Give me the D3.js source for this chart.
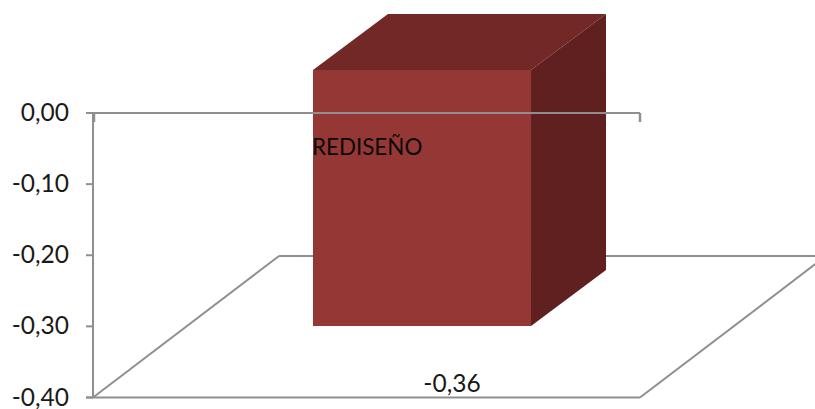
<!DOCTYPE html>
<html>
<head>
<meta charset="utf-8">
<script src="https://cdn.jsdelivr.net/npm/d3@7"></script>
<style>
html, body { margin: 0; padding: 0; background: #fff; overflow: hidden; }
svg { display: block; }
text { font-family: Lato, "Open Sans", sans-serif; fill: #1a1a1a; }
</style>
</head>
<body>
<svg width="815" height="409"></svg>
<script>
const categories = ["REDISEÑO"];
const values = [-0.36];
const valueLabels = ["-0,36"];
const tickValues = [0, -0.1, -0.2, -0.3, -0.4];
const tickLabels = ["0,00", "-0,10", "-0,20", "-0,30", "-0,40"];

const svg = d3.select("svg");
const grey = "#8f8f8f";

const scaleY = d3.scaleLinear().domain([0, -0.4]).range([113, 397.5]);
const scaleX = d3.scaleBand().domain(categories).range([93, 640]).padding(0.43);

// oblique projection of the 3d box
const floorDepth = { x: 186, y: -141.5 };
const barFront = { x: 55.5, y: -43 };
const barBack = { x: 130.5, y: -99 };

const plotLeft = scaleX.range()[0];
const plotRight = scaleX.range()[1];
const plotBottom = scaleY(-0.4);
const plotTop = scaleY(0);

function poly(points, fill) {
    svg.append("polygon")
        .attr("points", points.map((p) => p.join(",")).join(" "))
        .attr("fill", fill);
}

function line(x1, y1, x2, y2, width) {
    svg.append("line")
        .attr("x1", x1).attr("y1", y1)
        .attr("x2", x2).attr("y2", y2)
        .attr("stroke", grey)
        .attr("stroke-width", width || 2);
}

// floor and back wall
line(plotLeft, plotBottom, plotLeft + floorDepth.x, plotBottom + floorDepth.y);
line(plotLeft + floorDepth.x, plotBottom + floorDepth.y, plotRight + floorDepth.x, plotBottom + floorDepth.y);
line(plotRight, plotBottom, plotRight + floorDepth.x, plotBottom + floorDepth.y);
line(86, plotBottom, plotRight, plotBottom);

// axis
line(plotLeft, plotTop, plotLeft, plotBottom);
svg.selectAll(".tick-mark")
    .data(tickValues)
    .enter()
    .append("line")
    .attr("class", "tick-mark")
    .attr("x1", 86)
    .attr("x2", plotLeft)
    .attr("y1", (d) => scaleY(d))
    .attr("y2", (d) => scaleY(d))
    .attr("stroke", grey)
    .attr("stroke-width", 2);

svg.selectAll(".tick-label")
    .data(tickValues)
    .enter()
    .append("text")
    .attr("class", "tick-label")
    .attr("x", 69)
    .attr("y", (d) => scaleY(d) + 8)
    .attr("text-anchor", "end")
    .style("font-size", "24.5px")
    .text((d, i) => tickLabels[i]);

// bars
categories.forEach((cat, i) => {
    const x0 = scaleX(cat) + barFront.x;
    const w = scaleX.bandwidth();
    const y0 = plotTop + barFront.y;
    const h = scaleY(values[i]) - plotTop;
    const dx = barBack.x - barFront.x;
    const dy = barBack.y - barFront.y;

    poly([[x0, y0], [x0 + w, y0], [x0 + w + dx, y0 + dy], [x0 + dx, y0 + dy]], "#722826");
    poly([[x0 + w, y0], [x0 + w + dx, y0 + dy], [x0 + w + dx, y0 + dy + h], [x0 + w, y0 + h]], "#602020");
    poly([[x0, y0], [x0 + w, y0], [x0 + w, y0 + h], [x0, y0 + h]], "#953735");

    svg.append("text")
        .attr("x", x0 - 1)
        .attr("y", 155)
        .style("font-size", "22.4px")
        .style("fill", "#0a0a0a")
        .text(cat);

    svg.append("text")
        .attr("x", x0 + 139)
        .attr("y", 392)
        .attr("text-anchor", "middle")
        .style("font-size", "24.5px")
        .text(valueLabels[i]);
});

// zero line sits in front of the bar
line(plotLeft, plotTop, plotRight, plotTop);
line(plotRight, plotTop, plotRight, plotTop + 9, 2.5);
line(plotLeft + 1, plotTop, plotLeft + 1, plotTop + 9, 2.5);
</script>
</body>
</html>
